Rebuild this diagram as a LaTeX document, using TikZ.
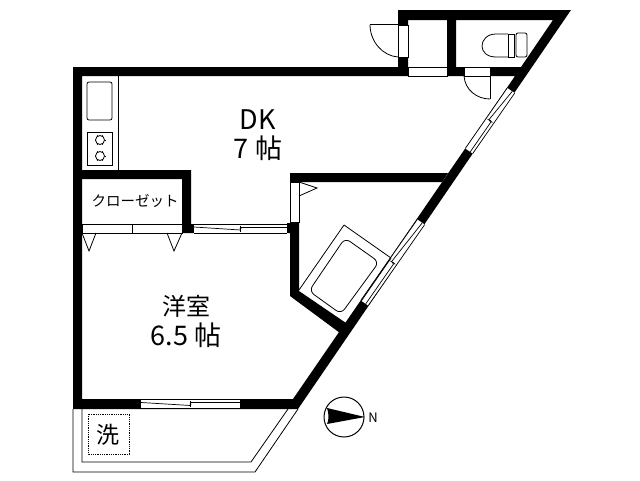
\documentclass[tikz,border=0pt]{standalone}
\usepackage{fontspec}
\setmainfont{Noto Sans CJK JP}
\usetikzlibrary{calc}
\tikzset{
  wall/.style={fill=black,even odd rule},
  thin line/.style={line width=0.8pt},
  opening/.style={fill=white,draw=black,line width=0.7pt},
  room label/.style={font=\fontsize{27}{27}\selectfont,inner sep=0pt}
}
\begin{document}
\begin{tikzpicture}[x=1pt,y=-1pt]
  \useasboundingbox (0,0) rectangle (640,480);
  \fill [white] (0,0) rectangle (640,480);
  \draw [thin line] (73,409) -- (73,472) -- (255,472) -- (298,409);
  \draw [thin line] (82,409) -- (82,462) -- (251,462) -- (288,409);
  \fill [wall] (73,67) -- (398,67) -- (398,10) -- (571,10) -- (298,409) -- (73,409) -- cycle
    (82,76) -- (515,76) -- (293,399) -- (82,399) -- cycle
    (408,20) -- (447,20) -- (447,67) -- (408,67) -- cycle
    (456,20) -- (553,20) -- (521,67) -- (456,67) -- cycle;
  \fill [wall] (82,170) -- (191,170) -- (191,224) -- (194,224) -- (194,233) -- (182,233) -- (182,179) -- (82,179) -- cycle;
  \fill [wall] (290,173) -- (448,173) -- (442,182) -- (299,182) -- (299,291) -- (346,323) -- (340,333) -- (290,296) -- (290,233) -- (287,233) -- (287,223) -- (290,223) -- cycle;
  \draw [opening] (408,67) rectangle (447,76);
  \draw [opening] (464,67) rectangle (490,76);
  \draw [opening] (398,25) rectangle (408,57);
  \draw [opening] (290,182) rectangle (299,222);
  \draw [opening] (82,224) rectangle (132,233);
  \draw [opening] (132,224) rectangle (182,233);
  \coordinate (w1a) at (511,90.5);
  \coordinate (w1b) at (469,151);
  \coordinate (w2a) at (421,222);
  \coordinate (w2b) at (364.5,303);
  \coordinate (w3a) at (194,228.5);
  \coordinate (w3b) at (287,228.5);
  \coordinate (w4a) at (141,404);
  \coordinate (w4b) at (240,404);
  \foreach \a/\b in {w1a/w1b,w2a/w2b,w3a/w3b,w4a/w4b} {
    \coordinate (m) at ($(\a)!0.5!(\b)$);
    \fill [white] ($(\a)!4.5pt!90:(\b)$) -- ($(\a)!4.5pt!-90:(\b)$) -- ($(\b)!4.5pt!90:(\a)$) -- ($(\b)!4.5pt!-90:(\a)$) -- cycle;
    \draw [line width=0.7pt] ($(\a)!4.5pt!90:(\b)$) -- ($(\b)!4.5pt!-90:(\a)$);
    \draw [line width=0.7pt] ($(\a)!4.5pt!-90:(\b)$) -- ($(\b)!4.5pt!90:(\a)$);
    \draw [line width=0.7pt] ($(\a)!1.5pt!90:(\b)$) -- ($(m)!1.5pt!-90:(\b)$);
    \draw [line width=0.7pt] ($(\b)!1.5pt!-90:(\a)$) -- ($(m)!1.5pt!90:(\b)$);
    \draw [line width=0.7pt] ($(m)!3pt!90:(\b)$) -- ($(m)!3pt!-90:(\b)$);
    \fill (m) circle (1pt);
  }
  \draw [thin line] (118,76) -- (118,170);
  \draw [thin line,rounded corners=2pt] (87,82) rectangle (112,120);
  \draw [thin line] (87,132) rectangle (112,165);
  \foreach \y in {140,156} {
    \draw [thin line] (100,\y) circle (4.5pt);
    \foreach \t in {0,60,...,300}
      \draw [line width=0.6pt] (100,\y) ++(\t:4.5) -- ++(\t:1);
  }
  \draw [thin line] (82,233) -- (89,251) -- (96,233);
  \draw [thin line] (167,233) -- (174,251) -- (182,233);
  \draw [thin line] (299,182) -- (317,188) -- (299,196);
  \draw [thin line] (370,24.5) -- (398,24.5);
  \draw [thin line] (370,24.5) .. controls (370,42) and (383,56) .. (398,57);
  \draw [thin line] (490,76) -- (490,99);
  \draw [thin line] (464,76) .. controls (465,90) and (477,99) .. (490,99);
  \draw [thin line,rounded corners=2pt] (516,33) rectangle (527,57);
  \draw [thin line] (508,34) rectangle (514,57);
  \draw [thin line] (508,34) -- (496,34) .. controls (487,34) and (482,40) .. (482,46) .. controls (482,52) and (487,57) .. (496,57) -- (508,57);
  \draw [thin line] (344,225) -- (391,258);
  \draw [thin line] (344,225) -- (299,290);
  \draw [thin line] (391,258) -- (346,323);
  \draw [thin line,rounded corners=6pt] (345,238) -- (379,262) -- (341,314) -- (309,291) -- cycle;
  \draw [line width=0.8pt,densely dotted] (88,414) rectangle (129,454);
  \draw [line width=1pt] (344,417) circle (20pt);
  \fill (365,417) -- (327,408) .. controls (329,414) and (329,420) .. (327,424) -- cycle;
  \node [room label] (dk) at (258,120) {DK};
  \node [room label] (dksize) at (258,148) {7 帖};
  \node [font=\fontsize{24}{24}\selectfont,inner sep=0pt] (yoshitsu) at (186,306) {洋室};
  \node [room label] (yoshitsusize) at (186,335) {6.5 帖};
  \node [font=\fontsize{14.5}{14.5}\selectfont,inner sep=0pt] (closet) at (135,201) {クローゼット};
  \node [font=\fontsize{23}{23}\selectfont,inner sep=0pt] (sentaku) at (108,435) {洗};
  \node [font=\fontsize{13}{13}\selectfont,inner sep=0pt] (north) at (373,418) {N};
\end{tikzpicture}
\end{document}
